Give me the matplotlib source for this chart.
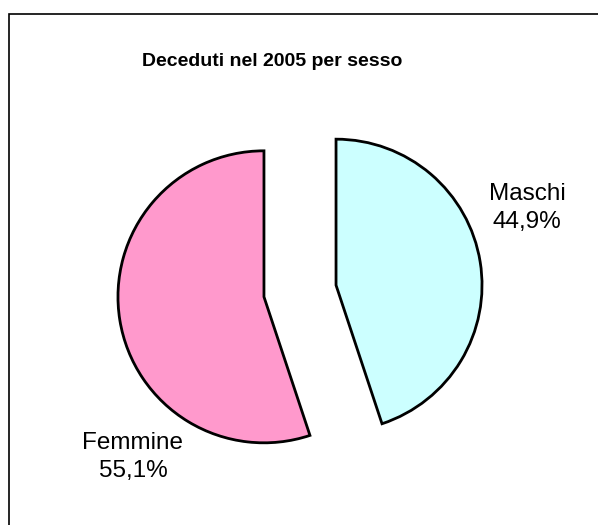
import matplotlib.pyplot as plt
from matplotlib.patches import Rectangle

plt.rcParams['font.family'] = ['Liberation Sans', 'DejaVu Sans']

labels = ['Maschi', 'Femmine']
shares = [44.9, 55.1]
pct_labels = ['44,9%', '55,1%']
colors = ['#CCFFFF', '#FF99CC']

W, H = 598, 525
fig = plt.figure(figsize=(W / 100, H / 100), dpi=100)
ax = fig.add_axes([0, 0, 1, 1])
ax.set_xlim(0, W)
ax.set_ylim(0, H)
ax.set_aspect('equal')
ax.axis('off')

# outer frame (right/bottom edges fall outside the image)
ax.add_patch(Rectangle((9, -20), W + 20, H - 14 + 20, fill=False,
                       edgecolor='black', linewidth=1.2))

ax.set_title('')
ax.text(272, H - 62, 'Deceduti nel 2005 per sesso', ha='center', va='center',
        fontsize=14, fontweight='bold')

radius = 146
ax.pie(shares, colors=colors, startangle=90, counterclock=False,
       center=(300, H - 291), radius=radius, explode=[36.5, 36.5],
       wedgeprops=dict(edgecolor='black', linewidth=2), frame=True)
ax.set_xlim(0, W)
ax.set_ylim(0, H)
ax.axis('off')

text_pos = [(527, H - 208), (133, H - 457)]
for lab, pct, (tx, ty) in zip(labels, pct_labels, text_pos):
    ax.text(tx, ty, lab + '\n' + pct, ha='center', va='center',
            fontsize=17.5, linespacing=1.3)

fig.savefig('out.png', dpi=100)
